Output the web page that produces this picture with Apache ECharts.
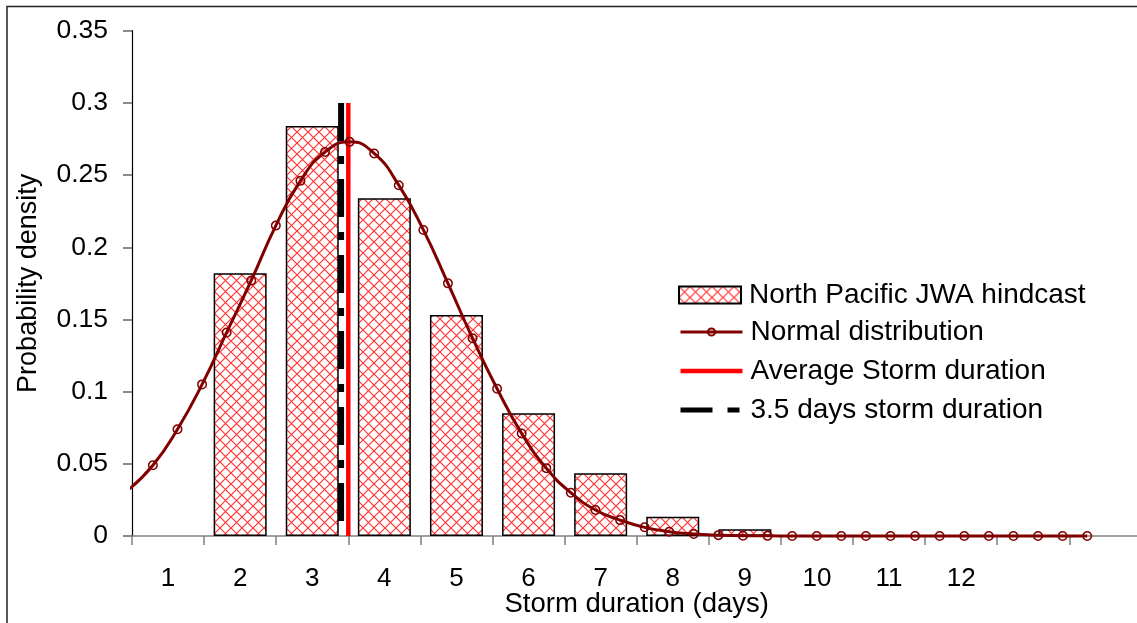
<!DOCTYPE html>
<html>
<head>
<meta charset="utf-8">
<script src="https://cdn.jsdelivr.net/npm/echarts@6.0.0/dist/echarts.min.js"></script>
<style>
html,body{margin:0;padding:0;background:#fff;}
#chart{width:1137px;height:623px;}
</style>
</head>
<body>
<div id="chart"></div>
<script>
// ---- data ----
const categories = ['1','2','3','4','5','6','7','8','9','10','11','12','',''];
const hindcast = [null, 0.182, 0.284, 0.234, 0.153, 0.085, 0.0434, 0.0134, 0.0046, null, null, null, null, null];
const normalX = [0.449, 0.79, 1.131, 1.472, 1.813, 2.154, 2.495, 2.836, 3.177, 3.518,
                 3.859, 4.2, 4.541, 4.882, 5.223, 5.564, 5.905, 6.246, 6.587, 6.928,
                 7.269, 7.61, 7.951, 8.292, 8.633, 8.974, 9.315, 9.656, 9.997, 10.338,
                 10.679, 11.02, 11.361, 11.702, 12.043, 12.384, 12.725, 13.066, 13.407, 13.748];
const normalY = [0.032, 0.049, 0.074, 0.105, 0.141, 0.177, 0.215, 0.246, 0.266, 0.273,
                 0.265, 0.243, 0.212, 0.175, 0.137, 0.102, 0.071, 0.047, 0.030, 0.018,
                 0.011, 0.006, 0.003, 0.0014, 0.0006, 0.0002, 0.0001, 0, 0, 0,
                 0, 0, 0, 0, 0, 0, 0, 0, 0, 0];
const averageDuration = 3.5;     // red line position (days)
const referenceDuration = 3.4;   // black dashed line position (days)
const verticalLineTop = 0.3;
const yMin = 0, yMax = 0.35, yStep = 0.05;
const seriesNames = ['North Pacific JWA hindcast', 'Normal distribution', 'Average Storm duration', '3.5 days storm duration'];
const xTitle = 'Storm duration (days)';
const yTitle = 'Probability density';

// ---- styling ----
const FONT = 'Liberation Sans, Arial, sans-serif';
function hatchPattern() {
  const s = 11;
  const c = document.createElement('canvas');
  c.width = s; c.height = s;
  const g = c.getContext('2d');
  g.fillStyle = '#ffffff';
  g.fillRect(0, 0, s, s);
  g.strokeStyle = 'rgba(255,30,30,0.9)';
  g.lineWidth = 1.2;
  g.beginPath();
  g.moveTo(-1, -1); g.lineTo(s + 1, s + 1);
  g.moveTo(s + 1, -1); g.lineTo(-1, s + 1);
  g.stroke();
  return c;
}
const hatch = { image: hatchPattern(), repeat: 'repeat' };

const chart = echarts.init(document.getElementById('chart'), null, { renderer: 'canvas' });
const legendText = { fontFamily: FONT, fontSize: 28, lineHeight: 26, color: '#000', padding: [0, 0, 0, 3] };
const option = {
  animation: false,
  backgroundColor: '#ffffff',
  grid: { left: 132, top: 30.7, right: -4.4, bottom: 87, containLabel: false, outerBoundsMode: 'none' },
  graphic: [{
    type: 'polyline', silent: true, z: 100,
    shape: { points: [[7, 700], [7, 6.5], [1200, 6.5]] },
    style: { fill: null, stroke: '#222', lineWidth: 1.5 }
  }],
  legend: [{
    orient: 'vertical', left: 678, top: 281, padding: 0,
    itemWidth: 62, itemHeight: 17, itemGap: 11,
    selectedMode: false,
    textStyle: legendText,
    data: [{ name: seriesNames[0], icon: 'rect' }]
  }, {
    orient: 'vertical', left: 678, top: 318, padding: 0,
    itemWidth: 62, itemHeight: 9, itemGap: 11,
    selectedMode: false,
    textStyle: legendText,
    data: [
      { name: seriesNames[1], lineStyle: { width: 3 } },
      { name: seriesNames[2], itemStyle: { opacity: 0 }, lineStyle: { width: 4.5 } },
      { name: seriesNames[3], itemStyle: { opacity: 0 }, lineStyle: { type: [32, 15, 12, 10], width: 5 } }
    ]
  }],
  xAxis: [{
    type: 'category',
    data: categories,
    boundaryGap: true,
    name: xTitle,
    nameLocation: 'middle',
    nameGap: 54,
    nameMoveOverlap: false,
    nameTextStyle: { fontFamily: FONT, fontSize: 27.5, color: '#000' },
    axisLine: { lineStyle: { color: '#808080', width: 1.5 } },
    axisTick: { show: true, length: 9, lineStyle: { color: '#808080', width: 1.5 } },
    axisLabel: { fontFamily: FONT, fontSize: 26, color: '#000', margin: 30, interval: 0 },
    splitLine: { show: false }
  }, {
    type: 'value', min: 0.5, max: 14.5, show: false, gridIndex: 0
  }],
  yAxis: [{
    type: 'value', min: yMin, max: yMax, interval: yStep,
    name: yTitle,
    nameLocation: 'middle',
    nameGap: 90,
    nameMoveOverlap: false,
    nameRotate: 90,
    nameTextStyle: { fontFamily: FONT, fontSize: 27, color: '#000' },
    axisLine: { show: true, lineStyle: { color: '#000', width: 1.2 } },
    axisTick: { show: true, length: 9, lineStyle: { color: '#666', width: 1.5 } },
    axisLabel: { fontFamily: FONT, fontSize: 26.5, color: '#000', margin: 24 },
    splitLine: { show: false }
  }],
  series: [{
    name: seriesNames[0],
    type: 'bar',
    xAxisIndex: 0, yAxisIndex: 0,
    data: hindcast,
    barWidth: 53,
    itemStyle: { color: hatch, borderColor: '#000', borderWidth: 1.5 },
    z: 1
  }, {
    name: seriesNames[3],
    type: 'line',
    xAxisIndex: 1, yAxisIndex: 0,
    data: [[referenceDuration, verticalLineTop], [referenceDuration, 0]],
    symbol: 'none',
    lineStyle: { color: '#000', width: 6, type: [38, 15, 8, 15], cap: 'butt' },
    itemStyle: { color: '#000' },
    z: 2
  }, {
    name: seriesNames[2],
    type: 'line',
    xAxisIndex: 1, yAxisIndex: 0,
    data: [[averageDuration, 0], [averageDuration, verticalLineTop]],
    symbol: 'none',
    lineStyle: { color: '#ff0000', width: 4.5 },
    itemStyle: { color: '#ff0000' },
    z: 3
  }, {
    name: seriesNames[1],
    type: 'line',
    xAxisIndex: 1, yAxisIndex: 0,
    clip: false,
    smooth: 0.5,
    data: normalX.map((x, i) => i === 0 ? { value: [x, normalY[i]], symbol: 'none' } : [x, normalY[i]]),
    symbol: 'circle',
    symbolSize: 8.5,
    itemStyle: { color: 'rgba(255,255,255,0)', borderColor: '#800000', borderWidth: 1.5 },
    lineStyle: { color: '#800000', width: 3 },
    z: 4
  }]
};
chart.setOption(option);
</script>
</body>
</html>
